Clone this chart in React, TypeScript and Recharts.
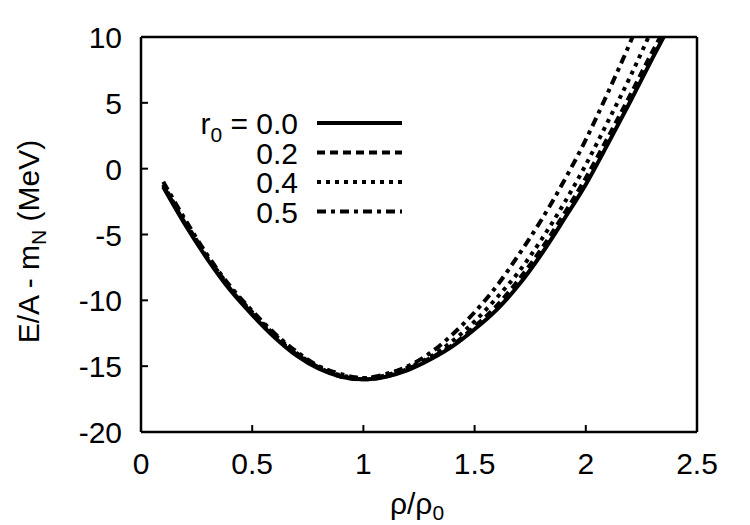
// App.tsx
import { LineChart, Line, XAxis, YAxis, Legend } from "recharts";

// ==========================================
// DATA
// ==========================================

const xTicks = [0, 0.5, 1, 1.5, 2, 2.5];
const yTicks = [-20, -15, -10, -5, 0, 5, 10];

const rhoGrid = [
  0.1, 0.2, 0.3, 0.4, 0.5, 0.6, 0.7, 0.8, 0.9, 1.0, 1.1, 1.2, 1.3, 1.4, 1.5,
  1.6, 1.7, 1.8, 1.9, 2.0, 2.1, 2.2,
];

// E/A - m_N (MeV) on rhoGrid, then the points where each curve leaves the frame
const energyR00 = [
  -1.4, -4.3, -6.9, -9.2, -11.1, -12.8, -14.2, -15.2, -15.8, -16.0, -15.8,
  -15.3, -14.5, -13.5, -12.2, -10.7, -8.8, -6.5, -3.9, -1.2, 1.9, 5.1,
];
const energyR02 = [
  -1.3, -4.2, -6.8, -9.1, -11.0, -12.7, -14.1, -15.1, -15.8, -16.0, -15.8,
  -15.2, -14.4, -13.4, -12.0, -10.4, -8.4, -6.1, -3.5, -0.7, 2.4, 5.6,
];
const energyR04 = [
  -1.2, -4.1, -6.7, -9.0, -10.9, -12.6, -14.0, -15.1, -15.7, -15.9, -15.7,
  -15.1, -14.3, -13.1, -11.6, -9.8, -7.8, -5.4, -2.7, 0.3, 3.6, 7.0,
];
const energyR05 = [
  -1.0, -3.9, -6.6, -8.9, -10.8, -12.5, -13.9, -15.0, -15.6, -15.9, -15.6,
  -15.0, -14.0, -12.6, -10.9, -8.9, -6.5, -3.9, -1.0, 2.2, 5.8, 9.6,
];

// tail points: [rho, energy] up to where the curve hits the top of the frame
const tailR00: [number, number][] = [[2.3, 8.4], [2.35, 10]];
const tailR02: [number, number][] = [[2.3, 8.9], [2.335, 10]];
const tailR04: [number, number][] = [[2.282, 10]];
const tailR05: [number, number][] = [[2.21, 10]];

const seriesLabels = ["0.0", "0.2", "0.4", "0.5"];
const seriesDash = ["", "8 5", "4 5", "9 5 4 5"];

// ==========================================
// HELPERS
// ==========================================

const toPoints = (values: number[], tail: [number, number][]) => [
  ...values.map((e, i) => ({ rho: rhoGrid[i], e })),
  ...tail.map(([rho, e]) => ({ rho, e })),
];

const series = [
  toPoints(energyR00, tailR00),
  toPoints(energyR02, tailR02),
  toPoints(energyR04, tailR04),
  toPoints(energyR05, tailR05),
];

const FONT = '"Liberation Sans", Arial, Helvetica, sans-serif';
const FS = 30;
const TICK = 7;

const BottomTick = (props: any) => {
  const { x, y, payload } = props;
  return (
    <g>
      <line x1={x} x2={x} y1={y} y2={y - TICK} stroke="#000" strokeWidth={2} />
      <text x={x} y={y + 42} textAnchor="middle" fontFamily={FONT} fontSize={FS} fill="#000">
        {String(payload.value)}
      </text>
    </g>
  );
};

const LeftTick = (props: any) => {
  const { x, y, payload } = props;
  return (
    <g>
      <line x1={x} x2={x + TICK} y1={y} y2={y} stroke="#000" strokeWidth={2} />
      <text x={x - 19} y={y + 11} textAnchor="end" fontFamily={FONT} fontSize={FS} fill="#000">
        {String(payload.value)}
      </text>
    </g>
  );
};

const TopTick = (props: any) => {
  const { x, y } = props;
  return <line x1={x} x2={x} y1={y} y2={y + TICK} stroke="#000" strokeWidth={2} />;
};

const RightTick = (props: any) => {
  const { x, y } = props;
  return <line x1={x} x2={x - TICK} y1={y} y2={y} stroke="#000" strokeWidth={2} />;
};

const XTitle = (props: any) => {
  const vb = props.viewBox || { x: 0, width: 0, y: 0 };
  const cx = vb.x + vb.width / 2 - 2;
  return (
    <text x={cx} y={vb.y + 82} textAnchor="middle" fontFamily={FONT} fontSize={FS} fill="#000">
      ρ/ρ
      <tspan dy={6} fontSize={21}>0</tspan>
    </text>
  );
};

const YTitle = (props: any) => {
  const vb = props.viewBox || { y: 0, height: 0 };
  const cx = 39;
  const cy = vb.y + vb.height / 2 + 7;
  return (
    <text
      x={cx}
      y={cy}
      transform={`rotate(-90, ${cx}, ${cy})`}
      textAnchor="middle"
      fontFamily={FONT}
      fontSize={FS}
      fill="#000"
    >
      E/A - m
      <tspan dy={7} fontSize={21}>N</tspan>
      <tspan dy={-7}> (MeV)</tspan>
    </text>
  );
};

const rowY = [123, 152.5, 182, 211.5];

const KeyBox = () => (
  <svg width={750} height={525} style={{ display: "block" }}>
    {seriesLabels.map((label, i) => (
      <g key={label}>
        <text
          x={298}
          y={rowY[i] + 11}
          textAnchor="end"
          fontFamily={FONT}
          fontSize={FS}
          fill="#000"
        >
          {i === 0 ? (
            <>
              r<tspan dy={8} fontSize={21}>0</tspan>
              <tspan dy={-8}>{` = ${label}`}</tspan>
            </>
          ) : (
            label
          )}
        </text>
        <line
          x1={317}
          x2={402}
          y1={rowY[i]}
          y2={rowY[i]}
          stroke="#000"
          strokeWidth={4}
          strokeDasharray={seriesDash[i] || undefined}
        />
      </g>
    ))}
  </svg>
);

// ==========================================
// MAIN COMPONENT
// ==========================================

export default function App() {
  return (
    <div
      style={{
        position: "absolute",
        left: 0,
        top: 0,
        width: 750,
        height: 525,
        background: "#fff",
      }}
    >
      <LineChart
        width={750}
        height={525}
        margin={{ top: 36, right: 52, bottom: 0, left: 0 }}
      >
        <XAxis
          xAxisId={0}
          dataKey="rho"
          type="number"
          domain={[0, 2.5]}
          ticks={xTicks}
          interval={0}
          height={93}
          tickSize={0}
          tickMargin={0}
          tick={<BottomTick />}
          axisLine={{ stroke: "#000", strokeWidth: 2.5 }}
          label={<XTitle />}
        />
        <XAxis
          xAxisId="top"
          orientation="top"
          dataKey="rho"
          type="number"
          domain={[0, 2.5]}
          ticks={xTicks}
          interval={0}
          height={1}
          tickSize={0}
          tickMargin={0}
          tick={<TopTick />}
          axisLine={{ stroke: "#000", strokeWidth: 2.5 }}
        />
        <YAxis
          yAxisId={0}
          type="number"
          domain={[-20, 10]}
          ticks={yTicks}
          interval={0}
          width={141}
          tickSize={0}
          tickMargin={0}
          tick={<LeftTick />}
          axisLine={{ stroke: "#000", strokeWidth: 2.5 }}
          label={<YTitle />}
          allowDataOverflow
        />
        <YAxis
          yAxisId="right"
          orientation="right"
          type="number"
          domain={[-20, 10]}
          ticks={yTicks}
          interval={0}
          width={1}
          tickSize={0}
          tickMargin={0}
          tick={<RightTick />}
          axisLine={{ stroke: "#000", strokeWidth: 2.5 }}
        />
        <Legend
          layout="horizontal"
          align="center"
          verticalAlign="middle"
          wrapperStyle={{ position: "absolute", left: 0, top: 0, width: 750, height: 525 }}
          content={() => <KeyBox />}
        />
        {series.map((pts, i) => (
          <Line
            key={seriesLabels[i]}
            data={pts}
            dataKey="e"
            xAxisId={0}
            yAxisId={0}
            type="monotone"
            stroke="#000"
            strokeWidth={4}
            strokeDasharray={seriesDash[i] || undefined}
            dot={false}
            activeDot={false}
            isAnimationActive={false}
            name={seriesLabels[i]}
          />
        ))}
      </LineChart>
    </div>
  );
}
